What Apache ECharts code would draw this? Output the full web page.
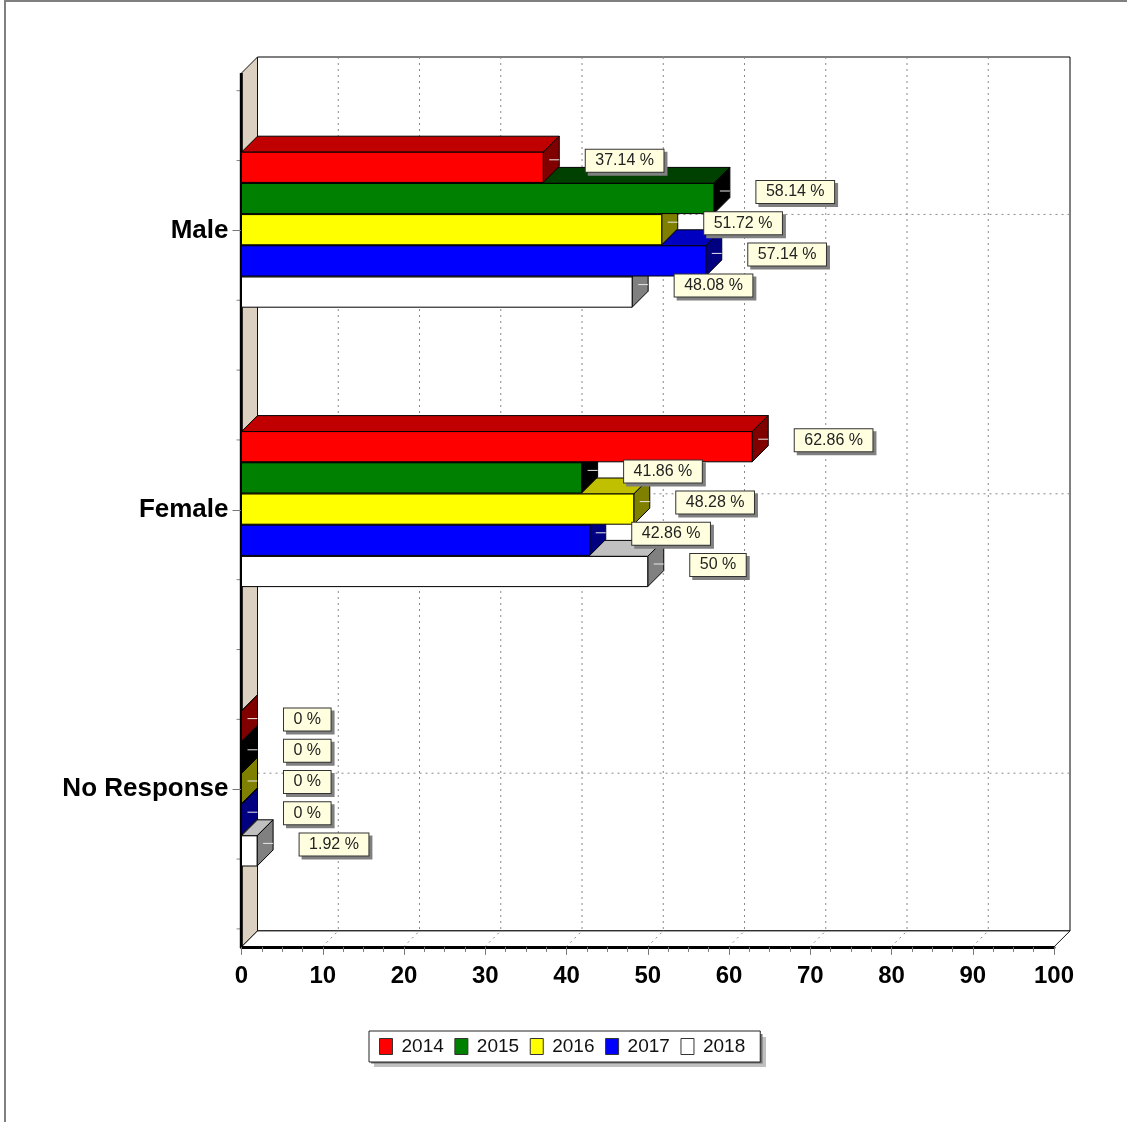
<!DOCTYPE html>
<html>
<head>
<meta charset="utf-8">
<style>html,body{margin:0;padding:0;background:#fff}#c{width:1127px;height:1122px}</style>
<script src="https://cdn.jsdelivr.net/npm/echarts@6/dist/echarts.min.js"></script>
</head>
<body>
<div id="c"></div>
<script>
const categories = ['Male', 'Female', 'No Response'];
const years = ['2014', '2015', '2016', '2017', '2018'];
const v2014 = [37.14, 62.86, 0];
const v2015 = [58.14, 41.86, 0];
const v2016 = [51.72, 48.28, 0];
const v2017 = [57.14, 42.86, 0];
const v2018 = [48.08, 50, 1.92];
const values = [v2014, v2015, v2016, v2017, v2018];
const xTicks = [0, 10, 20, 30, 40, 50, 60, 70, 80, 90, 100];
const fronts = ['#ff0000', '#008000', '#ffff00', '#0000ff', '#ffffff'];
const tops = ['#c00000', '#004000', '#c0c000', '#0000c0', '#c0c0c0'];
const sides = ['#800000', '#000000', '#808000', '#000080', '#808080'];

const FONT = '"Liberation Sans", Arial, sans-serif';
const D = 16;          // 3D depth in px
const PAD_T = 17.7, PAD_B = 18;
const GROUP = 156 / 279.4;
const SHIFT = -0.2;

function renderFrame(params, api) {
  const g = params.coordSys;
  const L = g.x, R = g.x + g.width, T = g.y - PAD_T, B = g.y + g.height + PAD_B;
  const band = g.height / categories.length;
  const kids = [];
  kids.push({type: 'rect', shape: {x: L + D, y: T - D, width: g.width, height: B - T},
    style: {fill: '#fff', stroke: '#000', lineWidth: 1}});
  kids.push({type: 'polygon', shape: {points: [[L, T], [L + D, T - D], [L + D, B - D], [L, B]]},
    style: {fill: '#dcd0c0', stroke: '#111', lineWidth: 1}});
  kids.push({type: 'polygon', shape: {points: [[L, B], [L + D, B - D], [R + D, B - D], [R, B]]},
    style: {fill: '#fff', stroke: '#111', lineWidth: 1}});
  const dot = {stroke: '#888', lineWidth: 1, lineDash: [2, 4]};
  xTicks.forEach(function (t) {
    const x = api.coord([t, 0])[0] - 0.5;
    if (t > 0 && t < 100) {
      kids.push({type: 'line', shape: {x1: x + D, y1: T - D, x2: x + D, y2: B - D}, style: dot});
      kids.push({type: 'line', shape: {x1: x, y1: B, x2: x + D, y2: B - D}, style: dot});
    }
  });
  categories.forEach(function (c, i) {
    const y = api.coord([0, i])[1];
    kids.push({type: 'line', shape: {x1: L + D, y1: y - D, x2: R + D, y2: y - D}, style: dot});
  });
  for (let i = 0; i <= categories.length * 4; i++) {
    if (i % 4 === 2) continue;
    const y = g.y + i * band / 4;
    kids.push({type: 'line', shape: {x1: L - 5, y1: y, x2: L - 1, y2: y},
      style: {stroke: '#888', lineWidth: 1}});
  }
  kids.push({type: 'line', shape: {x1: L - 0.2, y1: T, x2: L - 0.2, y2: B + 1},
    style: {stroke: '#000', lineWidth: 3}});
  return {type: 'group', children: kids};
}

function barBox(api, idx) {
  const p = api.coord([api.value(0), api.value(1)]);
  const z = api.coord([0, api.value(1)]);
  const band = api.size([0, 1])[1];
  const h = band * GROUP / years.length;
  const y0 = p[1] + SHIFT - band * GROUP / 2 + idx * h;
  return {x0: z[0], x1: p[0], y0: y0, y1: y0 + h - 1, mid: y0 + h / 2};
}

function makeBar(idx) {
  return function (params, api) {
    const b = barBox(api, idx);
    const edge = {stroke: '#000', lineWidth: 1, lineJoin: 'miter'};
    return {type: 'group', children: [
      {type: 'polygon', shape: {points: [[b.x0, b.y0], [b.x0 + D, b.y0 - D], [b.x1 + D, b.y0 - D], [b.x1, b.y0]]},
        style: Object.assign({fill: tops[idx]}, edge)},
      {type: 'polygon', shape: {points: [[b.x1, b.y0], [b.x1 + D, b.y0 - D], [b.x1 + D, b.y1 - D], [b.x1, b.y1]]},
        style: Object.assign({fill: sides[idx]}, edge)},
      {type: 'rect', shape: {x: b.x0, y: b.y0, width: b.x1 - b.x0, height: b.y1 - b.y0},
        style: Object.assign({fill: fronts[idx]}, edge)}
    ]};
  };
}

function makeLabel(idx) {
  return function (params, api) {
    const b = barBox(api, idx);
    const y = b.mid - 8;
    const txt = api.value(0) + ' %';
    const base = {
      text: txt, font: '16px ' + FONT, textAlign: 'left', textVerticalAlign: 'middle',
      padding: [3, 9.5, 3, 9.5], borderWidth: 1
    };
    return {type: 'group', children: [
      {type: 'line', shape: {x1: b.x1 + 6, y1: y, x2: b.x1 + 16, y2: y},
        style: {stroke: '#e8e8e8', lineWidth: 1}},
      {type: 'text', x: b.x1 + 45.5, y: y + 4, style: Object.assign({}, base, {
        fill: 'rgba(0,0,0,0)', backgroundColor: '#808080', borderColor: '#808080'})},
      {type: 'text', x: b.x1 + 42.5, y: y + 1, style: Object.assign({}, base, {
        fill: '#222', backgroundColor: '#ffffe0', borderColor: '#333'})}
    ]};
  };
}

const series = [{
  type: 'custom', name: 'frame', coordinateSystem: 'cartesian2d', z: 1, silent: true,
  renderItem: renderFrame, data: [[0, categories[0]]], encode: {x: 0, y: 1}
}];
years.forEach(function (y, i) {
  series.push({
    type: 'custom', name: y, coordinateSystem: 'cartesian2d', z: 10 - i, silent: true,
    itemStyle: {color: fronts[i]},
    renderItem: makeBar(i), encode: {x: 0, y: 1},
    data: values[i].map(function (v, j) { return [v, categories[j]]; })
  });
});
years.forEach(function (y, i) {
  series.push({
    type: 'custom', name: y + ' labels', coordinateSystem: 'cartesian2d', z: 20 + i, silent: true,
    renderItem: makeLabel(i), encode: {x: 0, y: 1},
    data: values[i].map(function (v, j) { return [v, categories[j]]; })
  });
});

const chart = echarts.init(document.getElementById('c'), null, {renderer: 'canvas'});
chart.setOption({
  animation: false,
  backgroundColor: '#fff',
  grid: {left: 241.5, top: 90.7, width: 812.5, height: 838.2, containLabel: false},
  xAxis: {
    type: 'value', min: 0, max: 100, interval: 10, position: 'bottom', offset: 18, z: 5,
    splitLine: {show: false},
    axisLine: {show: true, onZero: false, lineStyle: {color: '#000', width: 3}},
    axisTick: {show: true, length: 8, lineStyle: {color: '#777', width: 1}},
    minorTick: {show: true, splitNumber: 4, length: 5, lineStyle: {color: '#777', width: 1}},
    minorSplitLine: {show: false},
    axisLabel: {margin: 17, fontFamily: FONT, fontSize: 24, fontWeight: 'bold', color: '#000',
      hideOverlap: false, showMinLabel: true, showMaxLabel: true}
  },
  yAxis: {
    type: 'category', data: categories, inverse: true, z: 5,
    axisLine: {show: false},
    splitLine: {show: false},
    axisTick: {show: true, alignWithLabel: true, length: 9, lineStyle: {color: '#777', width: 1}},
    axisLabel: {margin: 13, fontFamily: FONT, fontSize: 26, fontWeight: 'bold', color: '#000',
      padding: [4, 0, 0, 0]}
  },
  legend: {
    data: years, left: 369, top: 1031, orient: 'horizontal', selectedMode: false,
    icon: 'rect', itemWidth: 13, itemHeight: 16, itemGap: 10.6,
    padding: [6, 15, 6, 10], z: 30,
    backgroundColor: '#fff', borderColor: '#222', borderWidth: 1,
    itemStyle: {borderColor: '#333', borderWidth: 1},
    textStyle: {fontFamily: FONT, fontSize: 19, color: '#111', padding: [0, 0, 0, 4]}
  },
  graphic: [
    {type: 'rect', z: -1, shape: {x: 374, y: 1037, width: 392, height: 30}, style: {fill: '#c0c0c0'}},
    {type: 'rect', z: -1, shape: {x: 371, y: 1034, width: 391.5, height: 29.5}, style: {fill: '#707070'}},
    {type: 'line', shape: {x1: 5, y1: 1, x2: 1127, y2: 1}, style: {stroke: '#808080', lineWidth: 2}},
    {type: 'line', shape: {x1: 5, y1: 0, x2: 5, y2: 1122}, style: {stroke: '#808080', lineWidth: 2}}
  ],
  series: series
});
</script>
</body>
</html>
